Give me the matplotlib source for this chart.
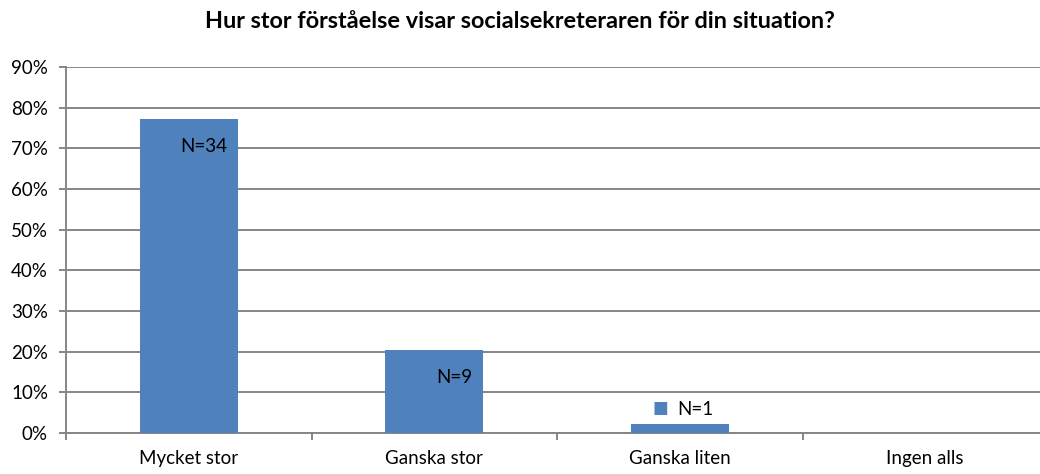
import matplotlib.pyplot as plt
from matplotlib.ticker import PercentFormatter

plt.rcParams['font.family'] = ['Lato', 'DejaVu Sans']

categories = ['Mycket stor', 'Ganska stor', 'Ganska liten', 'Ingen alls']
counts = [34, 9, 1, 0]
total = 44
shares = [100 * c / total for c in counts]
labels = ['N=34', 'N=9', 'N=1', None]

bar_color = '#4f81bd'
grid_color = '#868686'
fs = 13.5

fig = plt.figure(figsize=(10.4, 4.74), dpi=100)
ax = fig.add_axes([66 / 1040, 41 / 474, (1048 - 66) / 1040, (433 - 67) / 474])

x = list(range(len(categories)))
bars = ax.bar(x, shares, width=0.4, color=bar_color, zorder=3)

ax.set_xlim(-0.5, len(categories) - 0.5)
ax.set_ylim(0, 90)
ax.set_yticks(range(0, 91, 10))
ax.yaxis.set_major_formatter(PercentFormatter(decimals=0))
ax.yaxis.grid(True, color=grid_color, linewidth=1.4, zorder=0)

ax.set_xticks(x)
ax.set_xticklabels(categories)
ax.set_xticks([i - 0.5 for i in range(len(categories) + 1)], minor=True)
ax.tick_params(axis='x', which='major', length=0, pad=12, labelsize=fs)
ax.tick_params(axis='x', which='minor', length=5, width=1.4, color=grid_color)
ax.tick_params(axis='y', length=5, width=1.4, color=grid_color, pad=8, labelsize=fs)

for s in ['top', 'right']:
    ax.spines[s].set_visible(False)
for s in ['left', 'bottom']:
    ax.spines[s].set_color(grid_color)
    ax.spines[s].set_linewidth(1.4)

for rect, val, lab in zip(bars, shares, labels):
    if lab is None:
        continue
    if val > 10:
        ax.annotate(lab, xy=(rect.get_x() + rect.get_width(), val),
                    xytext=(-11, -28), textcoords='offset pixels',
                    ha='right', va='center', fontsize=fs, zorder=4)
    else:
        cx = rect.get_x() + rect.get_width() / 2
        ax.annotate(lab, xy=(cx, val), xytext=(16, 14), textcoords='offset pixels',
                    ha='center', va='center', fontsize=fs, zorder=4)
        ax.annotate('\u25a0', xy=(cx, val), xytext=(-19, 16), textcoords='offset pixels',
                    ha='center', va='center', fontsize=12, color=bar_color, zorder=4)

fig.text(0.5, 1 - 21 / 474, 'Hur stor förståelse visar socialsekreteraren för din situation?',
         ha='center', va='center', fontsize=16.9, fontweight='bold')

fig.savefig('out.png', dpi=100)
